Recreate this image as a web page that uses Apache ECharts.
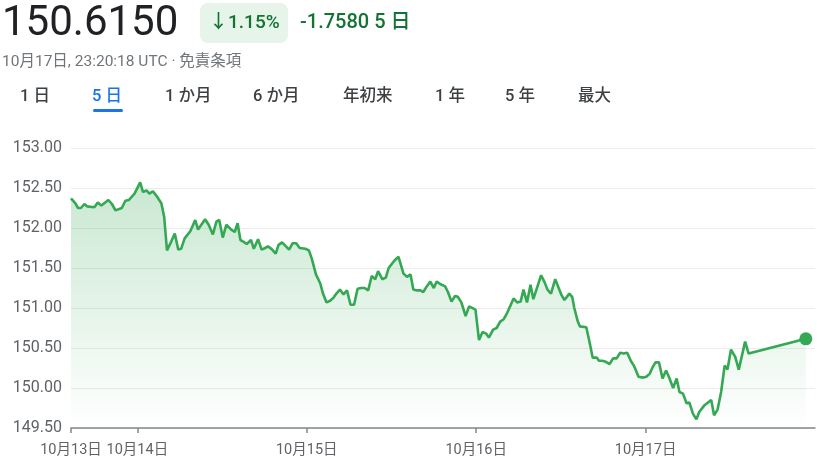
<!DOCTYPE html>
<html>
<head>
<meta charset="utf-8">
<script src="https://cdn.jsdelivr.net/npm/echarts@6/dist/echarts.min.js"></script>
<style>
html,body{margin:0;padding:0;background:#fff;}
#c{width:817px;height:459px;}
</style>
</head>
<body>
<div id="c"></div>
<script>
// hours since 10月13日 00:00 UTC
const times = [14.6,15.2,15.6,16.0,16.5,16.9,17.9,18.4,18.9,19.9,20.4,20.9,21.8,22.3,22.8,23.6,24.4,24.8,25.3,25.7,26.2,26.8,27.4,27.8,28.2,28.8,29.3,29.8,30.2,30.7,31.5,32.2,32.6,33.6,34.1,34.7,35.2,35.6,36.1,36.6,37.3,37.8,38.2,38.6,39.0,39.5,40.1,40.5,41.1,41.6,42.1,42.5,43.0,43.6,44.0,44.5,45.5,46.0,46.5,47.0,47.8,48.3,48.7,49.3,49.9,50.3,50.8,51.3,51.8,52.2,52.7,53.2,53.7,54.2,54.7,55.2,55.7,56.2,56.7,57.2,57.7,58.1,58.7,59.2,59.6,60.4,61.0,61.2,61.7,62.2,62.7,63.1,63.6,64.1,64.5,65.0,65.5,66.0,66.4,66.9,67.6,68.0,68.5,69.0,69.4,69.9,70.5,71.0,71.9,72.4,72.9,73.4,73.8,74.4,74.9,75.4,75.9,76.4,77.3,77.8,78.3,78.7,79.2,79.7,80.1,81.2,81.7,82.1,82.6,83.2,83.6,84.1,84.5,85.2,85.6,85.9,86.4,86.7,87.6,88.0,88.5,89.1,89.4,89.8,90.3,90.9,91.4,91.9,92.4,92.9,93.4,93.9,94.4,95.0,95.7,96.1,96.6,97.0,97.4,97.9,98.4,98.9,99.3,99.9,100.4,100.8,101.3,101.8,102.2,102.7,103.2,103.6,104.3,105.3,105.7,106.2,106.7,107.2,107.6,108.1,108.7,109.2,110.1,110.6,118.7];
const prices = [152.37,152.31,152.25,152.25,152.30,152.27,152.26,152.32,152.28,152.35,152.30,152.22,152.25,152.34,152.35,152.43,152.57,152.45,152.47,152.43,152.46,152.39,152.31,152.14,151.72,151.83,151.93,151.73,151.74,151.87,151.96,152.10,151.98,152.11,152.04,151.92,152.08,152.10,151.88,152.04,151.98,151.95,152.06,151.85,151.83,151.80,151.85,151.74,151.86,151.73,151.75,151.77,151.74,151.68,151.79,151.82,151.73,151.81,151.81,151.75,151.74,151.72,151.62,151.42,151.31,151.18,151.07,151.09,151.13,151.18,151.23,151.17,151.22,151.04,151.04,151.24,151.25,151.25,151.22,151.40,151.36,151.46,151.36,151.38,151.50,151.59,151.64,151.64,151.43,151.39,151.42,151.23,151.22,151.22,151.20,151.27,151.33,151.25,151.33,151.30,151.27,151.20,151.08,151.15,151.14,151.07,150.90,151.02,150.98,150.60,150.70,150.68,150.63,150.73,150.75,150.83,150.86,150.94,151.12,151.07,151.08,151.23,151.07,151.29,151.11,151.41,151.32,151.23,151.18,151.36,151.27,151.16,151.10,151.18,151.14,151.00,150.83,150.77,150.76,150.60,150.38,150.38,150.34,150.34,150.33,150.30,150.37,150.37,150.44,150.43,150.44,150.34,150.27,150.14,150.13,150.14,150.18,150.26,150.32,150.32,150.12,150.22,150.14,150.00,150.12,149.95,149.93,149.81,149.82,149.68,149.61,149.70,149.78,149.85,149.66,149.73,149.95,150.28,150.23,150.48,150.39,150.23,150.58,150.43,150.615];
const dayTicks = [14.6, 24, 48, 72, 96];
const yMin = 149.5, yMax = 153.0, yStep = 0.5;
const tabs = ['1 日','5 日','1 か月','6 か月','年初来','1 年','5 年','最大'];
const tabX = [20, 92, 165, 253, 343, 435, 505, 578];
const priceText = '150.6150';
const pctText = '↓1.15%';
const chgText = '-1.7580 5 日';
const subText = '10月17日, 23:20:18 UTC · 免責条項';

const FONT = "Roboto, 'Noto Sans CJK JP', sans-serif";
const GREEN = '#34a853';
const pts = times.map((t, i) => [t, prices[i]]);
const last = pts[pts.length - 1];

const graphic = [
  {type:'text', left:2, top:3, style:{text:priceText, font:'400 42px ' + FONT, fill:'#202124'}},
  {type:'rect', shape:{x:200, y:3, width:88, height:40, r:8}, style:{fill:'#e6f4ea'}},
  {type:'text', x:209, y:23, style:{text:pctText, font:'500 19px ' + FONT, fill:'#137333', verticalAlign:'middle'}},
  {type:'text', x:300, y:23, style:{text:chgText, font:'500 20px ' + FONT, fill:'#137333', verticalAlign:'middle'}},
  {type:'text', x:2, y:62, style:{text:subText, font:'400 15.5px ' + FONT, fill:'#70757a', verticalAlign:'middle'}},
  {type:'rect', shape:{x:93, y:109, width:30, height:3, r:1.5}, style:{fill:'#1a73e8'}}
];
tabs.forEach((t, i) => {
  graphic.push({type:'text', x:tabX[i], y:97, style:{text:t, font:'500 16.5px ' + FONT,
    fill: i === 1 ? '#1a73e8' : '#3c4043', verticalAlign:'middle'}});
});

const chart = echarts.init(document.getElementById('c'), null, {renderer:'canvas'});
chart.setOption({
  animation:false,
  graphic: graphic,
  grid:{left:71, right:2, top:148, bottom:31, containLabel:false},
  xAxis:{
    type:'value', min:14.6, max:120,
    axisLine:{show:true, lineStyle:{color:'#80868b', width:1.5}},
    axisTick:{show:true, customValues:dayTicks, length:5, lineStyle:{color:'#80868b', width:1.5}},
    axisLabel:{customValues:dayTicks, fontFamily:FONT, fontSize:14.5, color:'#5f6368', margin:15,
      formatter:v => '10月' + (13 + Math.floor(v / 24 + 1e-9)) + '日'},
    splitLine:{show:false}
  },
  yAxis:{
    type:'value', min:yMin, max:yMax, interval:yStep,
    axisLine:{show:false}, axisTick:{show:false},
    axisLabel:{fontFamily:FONT, fontSize:16, color:'#5f6368', margin:9, formatter:v => v.toFixed(2)},
    splitLine:{lineStyle:{color:'#ececec', width:1}}
  },
  series:[
    {type:'line', data:pts, showSymbol:false, symbol:'none',
     lineStyle:{color:GREEN, width:2.6}, itemStyle:{color:GREEN},
     areaStyle:{origin:'start', color:new echarts.graphic.LinearGradient(0,0,0,1,[
       {offset:0, color:'rgba(52,168,83,0.38)'},
       {offset:1, color:'rgba(52,168,83,0)'}])}},
    {type:'scatter', data:[last], symbol:'circle', symbolSize:13, itemStyle:{color:GREEN, opacity:1}, z:5}
  ]
});
</script>
</body>
</html>
